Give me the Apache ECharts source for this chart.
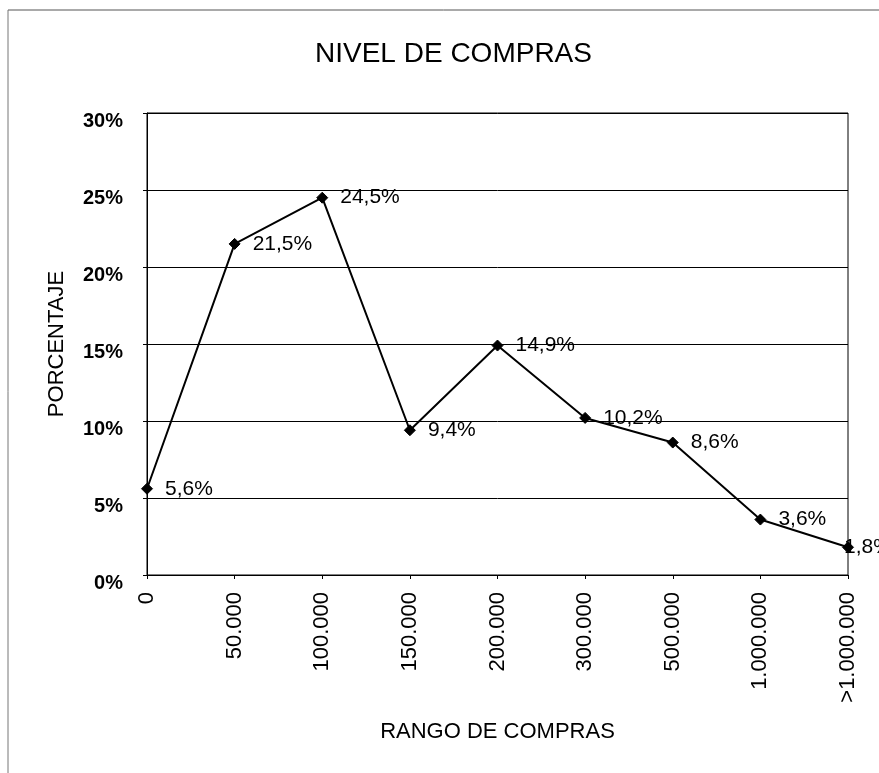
<!DOCTYPE html>
<html><head><meta charset="utf-8">
<script src="https://cdn.jsdelivr.net/npm/echarts@6/dist/echarts.min.js"></script>
<style>html,body{margin:0;padding:0;background:#fff}#c{width:879px;height:773px}</style>
</head><body><div id="c"></div>
<script>
const categories = ['0','50.000','100.000','150.000','200.000','300.000','500.000','1.000.000','>1.000.000'];
const values = [5.6, 21.5, 24.5, 9.4, 14.9, 10.2, 8.6, 3.6, 1.8];
const yTicks = [0, 5, 10, 15, 20, 25, 30];

const chart = echarts.init(document.getElementById('c'));
const F = '"Liberation Sans", Arial, sans-serif';
const seriesData = values.map((v, i) => i === values.length - 1
  ? { value: v, label: { distance: -10 } }
  : v);
chart.setOption({
  animation: false,
  backgroundColor: '#fff',
  title: { text: 'NIVEL DE COMPRAS', left: 310, top: 35,
    textStyle: { fontFamily: F, fontSize: 28, fontWeight: 'normal', color: '#000' } },
  graphic: [
    { type: 'line', shape: { x1: 8, y1: 10, x2: 879, y2: 10 }, style: { stroke: '#555', lineWidth: 1 } },
    { type: 'line', shape: { x1: 8, y1: 10, x2: 8, y2: 773 }, style: { stroke: '#777', lineWidth: 1 } }
  ],
  grid: { left: 147, right: 31, top: 113, bottom: 198, show: true, borderColor: '#000', borderWidth: 1 },
  xAxis: {
    type: 'category', data: categories, boundaryGap: false,
    name: 'RANGO DE COMPRAS', nameLocation: 'middle', nameGap: 146,
    nameTextStyle: { fontFamily: F, fontSize: 22, color: '#000' },
    axisLine: { lineStyle: { color: '#000', width: 1 } },
    axisTick: { show: true, length: 4, lineStyle: { color: '#000' } },
    axisLabel: { rotate: 90, fontFamily: F, fontSize: 22, color: '#000', margin: 17 },
    splitLine: { show: false }
  },
  yAxis: {
    type: 'value', min: 0, max: 30, interval: 5,
    name: 'PORCENTAJE', nameLocation: 'middle', nameGap: 79, nameRotate: 90,
    nameTextStyle: { fontFamily: F, fontSize: 22, color: '#000' },
    axisLine: { show: true, lineStyle: { color: '#000', width: 1 } },
    axisTick: { show: true, length: 4, lineStyle: { color: '#000' } },
    axisLabel: { fontFamily: F, fontSize: 20, fontWeight: 'bold', color: '#000', margin: 24,
      lineHeight: 16,
      formatter: v => yTicks.includes(v) ? '\n' + v + '%' : '' },
    splitLine: { show: true, lineStyle: { color: '#000', width: 1 } }
  },
  series: [{
    type: 'line', data: seriesData,
    symbol: 'diamond', symbolSize: 11,
    lineStyle: { color: '#000', width: 2 },
    itemStyle: { color: '#000', borderColor: '#000' },
    label: { show: true, position: 'right', distance: 12, fontFamily: F, fontSize: 21, color: '#000',
      formatter: p => String(p.value).replace('.', ',') + '%' }
  }]
});
</script></body></html>
